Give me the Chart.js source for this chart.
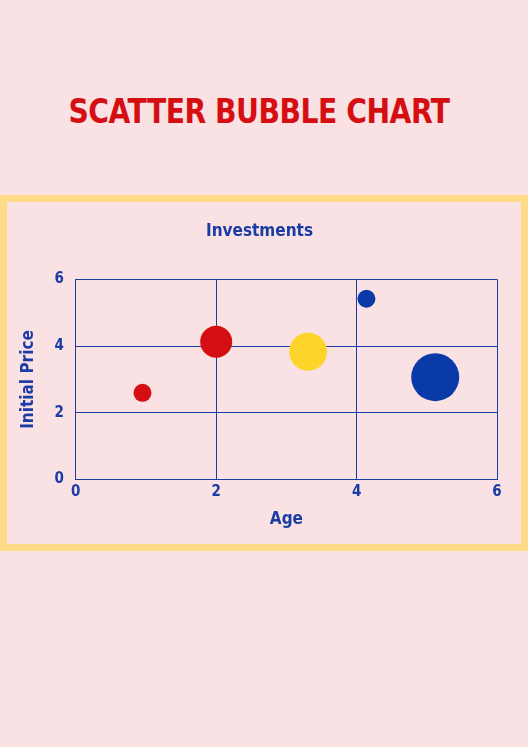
<!DOCTYPE html>
<html><head><meta charset="utf-8">
<script src="https://cdn.jsdelivr.net/npm/chart.js@4"></script>
<style>
html,body{margin:0;padding:0;background:#f9e1e4;width:528px;height:747px;overflow:hidden;font-family:"Liberation Sans Narrow","DejaVu Sans Condensed",sans-serif}
h1{position:absolute;left:0;width:518px;top:92px;margin:0;text-align:center;color:#d50e12;font-size:33px;font-weight:bold;letter-spacing:-0.5px;transform:scaleX(0.95)}
#box{position:absolute;left:0;top:195px;width:514px;height:342px;border:7px solid #fddb87}
#wrap{position:absolute;left:0;top:0;width:514px;height:342px}
</style></head><body>
<h1>SCATTER BUBBLE CHART</h1>
<div id="box"><div id="wrap"><canvas id="c"></canvas></div></div>
<script>
const labels=["A","B","C","D","E"];
const xVals=[0.95,2.0,3.31,4.14,5.12];
const yVals=[2.6,4.13,3.83,5.42,3.07];
const radii=[9,16,19,9,24];
const colors=["#d50e12","#d50e12","#fdd52a","#0a3aa8","#0a3aa8"];
const ticks=[0,2,4,6];
const blue="#1b3ca5";
const F="'Liberation Sans Narrow','DejaVu Sans Condensed',sans-serif";
new Chart(document.getElementById('c'),{
type:'bubble',
data:{datasets:[{data:xVals.map((x,i)=>({x:x,y:yVals[i],r:radii[i]})),backgroundColor:colors,borderColor:colors,borderWidth:0}]},
options:{responsive:true,maintainAspectRatio:false,animation:false,
layout:{padding:{left:7,right:16,top:14,bottom:10}},
plugins:{legend:{display:false},tooltip:{enabled:false},
title:{display:true,text:'Investments',color:blue,font:{family:F,size:17,weight:'bold'},padding:{top:5,bottom:38}}},
scales:{
x:{min:0,max:6,afterBuildTicks:a=>{a.ticks=ticks.map(v=>({value:v}))},
grid:{color:blue,drawTicks:false,lineWidth:1},border:{color:blue},
ticks:{color:blue,font:{family:F,size:15,weight:'bold'},padding:4},
title:{display:true,text:'Age',color:blue,font:{family:F,size:17,weight:'bold'}}},
y:{min:0,max:6,afterBuildTicks:a=>{a.ticks=ticks.map(v=>({value:v}))},
grid:{color:blue,drawTicks:false,lineWidth:1},border:{color:blue},
ticks:{color:blue,font:{family:F,size:15,weight:'bold'},padding:12},
title:{display:true,text:'Initial Price',color:blue,font:{family:F,size:17,weight:'bold'}}}
}}});
</script>
</body></html>
